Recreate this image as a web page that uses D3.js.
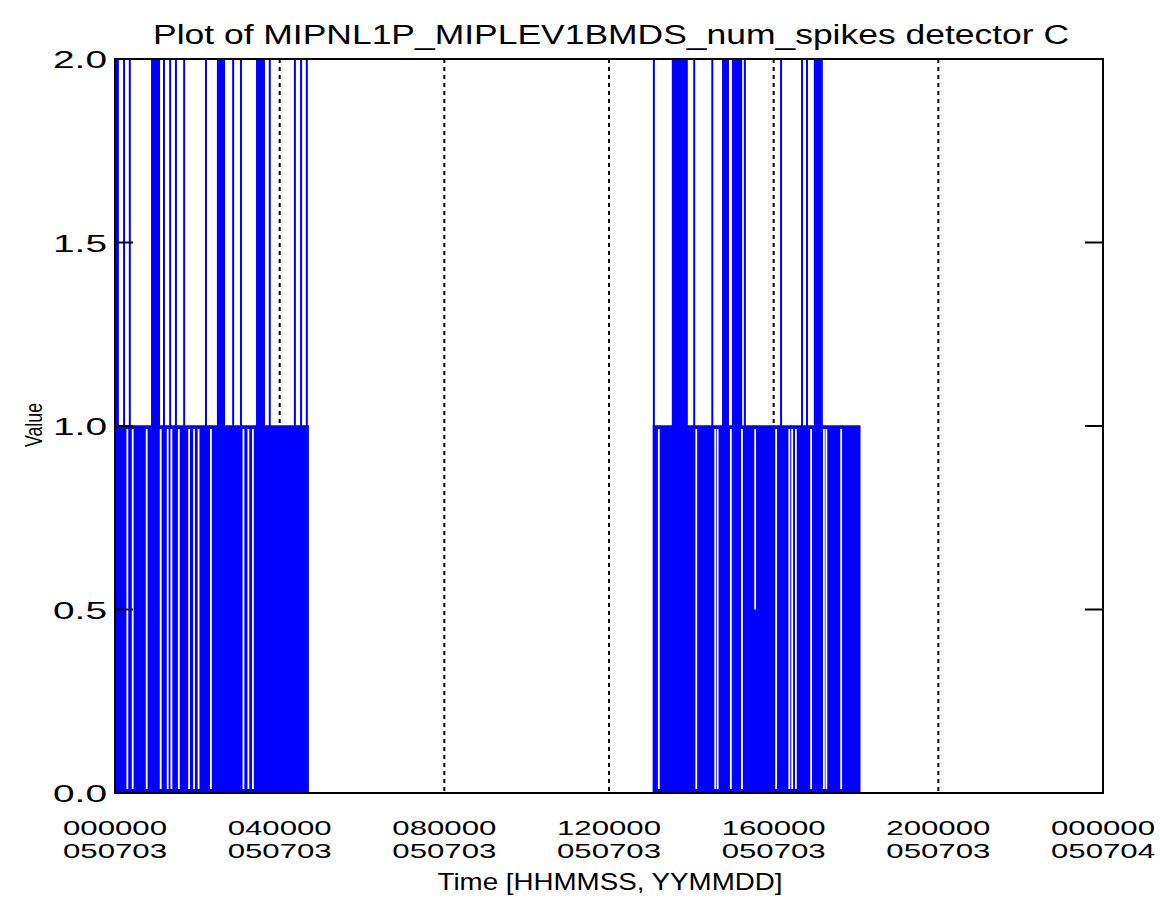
<!DOCTYPE html>
<html>
<head>
<meta charset="utf-8">
<script src="https://cdn.jsdelivr.net/npm/d3@7"></script>
<style>
  html, body { margin: 0; padding: 0; background: #fff; }
  svg text { font-family: "Liberation Sans", "DejaVu Sans", sans-serif; fill: #000; }
</style>
</head>
<body>
<svg id="chart" width="1160" height="907"></svg>
<script>
// ---------------- data (hours since 000000 050703) ----------------
const titleText = "Plot of MIPNL1P_MIPLEV1BMDS_num_spikes detector C";
const xLabel = "Time [HHMMSS, YYMMDD]";
const yLabel = "Value";

const hourTicks = [0, 4, 8, 12, 16, 20, 24];
const tickTimes = ["000000", "040000", "080000", "120000", "160000", "200000", "000000"];
const tickDates = ["050703", "050703", "050703", "050703", "050703", "050703", "050704"];
const yTicks = [0, 0.5, 1.0, 1.5, 2.0];

// periods where num_spikes toggles densely between 0 and 1
const activeStart = [0.0, 13.06];
const activeEnd = [4.71, 18.11];

// excursions up to 2 spikes: [start hour, end hour]
const spikeStart = [0.02, 0.22, 0.36, 0.90, 1.19, 1.34, 1.48, 1.68, 2.21, 2.50, 2.87, 3.06, 3.45, 3.76, 4.37, 4.52, 4.66,
                    13.09, 13.55, 14.07, 14.51, 14.77, 15.01, 15.30, 16.18, 16.69, 16.81, 17.00];
const spikeEnd   = [0.07, 0.22, 0.36, 1.07, 1.19, 1.34, 1.48, 1.68, 2.21, 2.65, 2.87, 3.06, 3.62, 3.76, 4.37, 4.52, 4.66,
                    13.09, 13.89, 14.07, 14.51, 14.89, 15.21, 15.30, 16.18, 16.69, 16.81, 17.17];

// instants inside active periods where the series stays at/above a level (no drop to 0)
const dropoutHour = [0.30, 0.43, 0.77, 1.11, 1.28, 1.37, 1.55, 1.80, 1.92, 2.03, 2.33, 3.12, 3.24, 3.35,
                     13.21, 14.12, 14.58, 14.64, 14.96, 15.23, 15.55, 16.06, 16.38, 16.45, 16.54, 16.91, 17.22, 17.28, 17.64];
const dropoutFloor = [0, 0, 0, 0, 0, 0, 0, 0, 0, 0, 0, 0, 0, 0,
                      0, 0, 0, 0, 0, 0, 0.5, 0, 0, 0, 0, 0, 0, 0, 0];

// ---------------- layout ----------------
const svg = d3.select("#chart");
const L = 115, R = 1103, T = 59, B = 793;
const blue = "#0000ff";

const x = d3.scaleLinear().domain([0, 24]).range([L, R]);
const y = d3.scaleLinear().domain([0, 2]).range([B, T]);

// title
svg.append("text")
  .attr("x", 611).attr("y", 44)
  .attr("text-anchor", "middle")
  .attr("font-size", 27)
  .attr("textLength", 916).attr("lengthAdjust", "spacingAndGlyphs")
  .text(titleText);

// dotted hour grid lines (interior)
svg.append("g").selectAll("line")
  .data(hourTicks.slice(1, -1))
  .join("line")
  .attr("x1", d => x(d)).attr("x2", d => x(d))
  .attr("y1", y(2)).attr("y2", y(0))
  .attr("stroke", "#000").attr("stroke-width", 2)
  .attr("stroke-dasharray", "4,4");

const data = svg.append("g");

// dense 0<->1 activity
data.selectAll("rect.active")
  .data(activeStart.map((s, i) => ({ s, e: activeEnd[i] })))
  .join("rect").attr("class", "active")
  .attr("x", d => x(d.s)).attr("width", d => x(d.e) - x(d.s))
  .attr("y", y(1) - 0.75).attr("height", y(0) - y(1) + 0.75)
  .attr("fill", blue);

// gaps where the trace does not return to 0
data.selectAll("line.gap")
  .data(dropoutHour.map((h, i) => ({ h, f: dropoutFloor[i] })))
  .join("line").attr("class", "gap")
  .attr("x1", d => x(d.h)).attr("x2", d => x(d.h))
  .attr("y1", y(1) + 3)
  .attr("y2", d => d.f === 0 ? y(0) - 4 : y(d.f))
  .attr("stroke", "#fff").attr("stroke-width", 1.8);

// spikes up to 2
const spikes = spikeStart.map((s, i) => ({ s, e: spikeEnd[i] }));
data.selectAll("rect.spike")
  .data(spikes)
  .join("rect").attr("class", "spike")
  .attr("x", d => x(d.s) - 1)
  .attr("width", d => Math.max(2, x(d.e) - x(d.s) + 2))
  .attr("y", y(2)).attr("height", y(1) - y(2))
  .attr("fill", blue);

// frame
svg.append("rect")
  .attr("x", L).attr("y", T).attr("width", R - L).attr("height", B - T)
  .attr("fill", "none").attr("stroke", "#000").attr("stroke-width", 2);

// y ticks (inward, left and right)
const yt = svg.append("g");
yt.selectAll("line.l").data(yTicks).join("line").attr("class", "l")
  .attr("x1", L).attr("x2", L + 18).attr("y1", d => y(d)).attr("y2", d => y(d))
  .attr("stroke", "#000").attr("stroke-width", 2);
yt.selectAll("line.r").data(yTicks).join("line").attr("class", "r")
  .attr("x1", R - 18).attr("x2", R).attr("y1", d => y(d)).attr("y2", d => y(d))
  .attr("stroke", "#000").attr("stroke-width", 2);
yt.selectAll("text").data(yTicks).join("text")
  .attr("x", 107).attr("y", d => y(d) + 9)
  .attr("text-anchor", "end")
  .attr("font-size", 24)
  .attr("textLength", 54).attr("lengthAdjust", "spacingAndGlyphs")
  .text(d => d3.format(".1f")(d));

// x tick labels (two lines)
const xt = svg.append("g");
xt.selectAll("text.t").data(hourTicks).join("text").attr("class", "t")
  .attr("x", d => x(d)).attr("y", 835)
  .attr("text-anchor", "middle").attr("font-size", 21)
  .attr("textLength", 104).attr("lengthAdjust", "spacingAndGlyphs")
  .text((d, i) => tickTimes[i]);
xt.selectAll("text.d").data(hourTicks).join("text").attr("class", "d")
  .attr("x", d => x(d)).attr("y", 858)
  .attr("text-anchor", "middle").attr("font-size", 21)
  .attr("textLength", 104).attr("lengthAdjust", "spacingAndGlyphs")
  .text((d, i) => tickDates[i]);

// axis titles
svg.append("text")
  .attr("x", 610).attr("y", 890)
  .attr("text-anchor", "middle").attr("font-size", 24)
  .attr("textLength", 345).attr("lengthAdjust", "spacingAndGlyphs")
  .text(xLabel);

svg.append("text")
  .attr("transform", "translate(42,425) rotate(-90)")
  .attr("text-anchor", "middle").attr("font-size", 24)
  .attr("textLength", 44).attr("lengthAdjust", "spacingAndGlyphs")
  .text(yLabel);
</script>
</body>
</html>
